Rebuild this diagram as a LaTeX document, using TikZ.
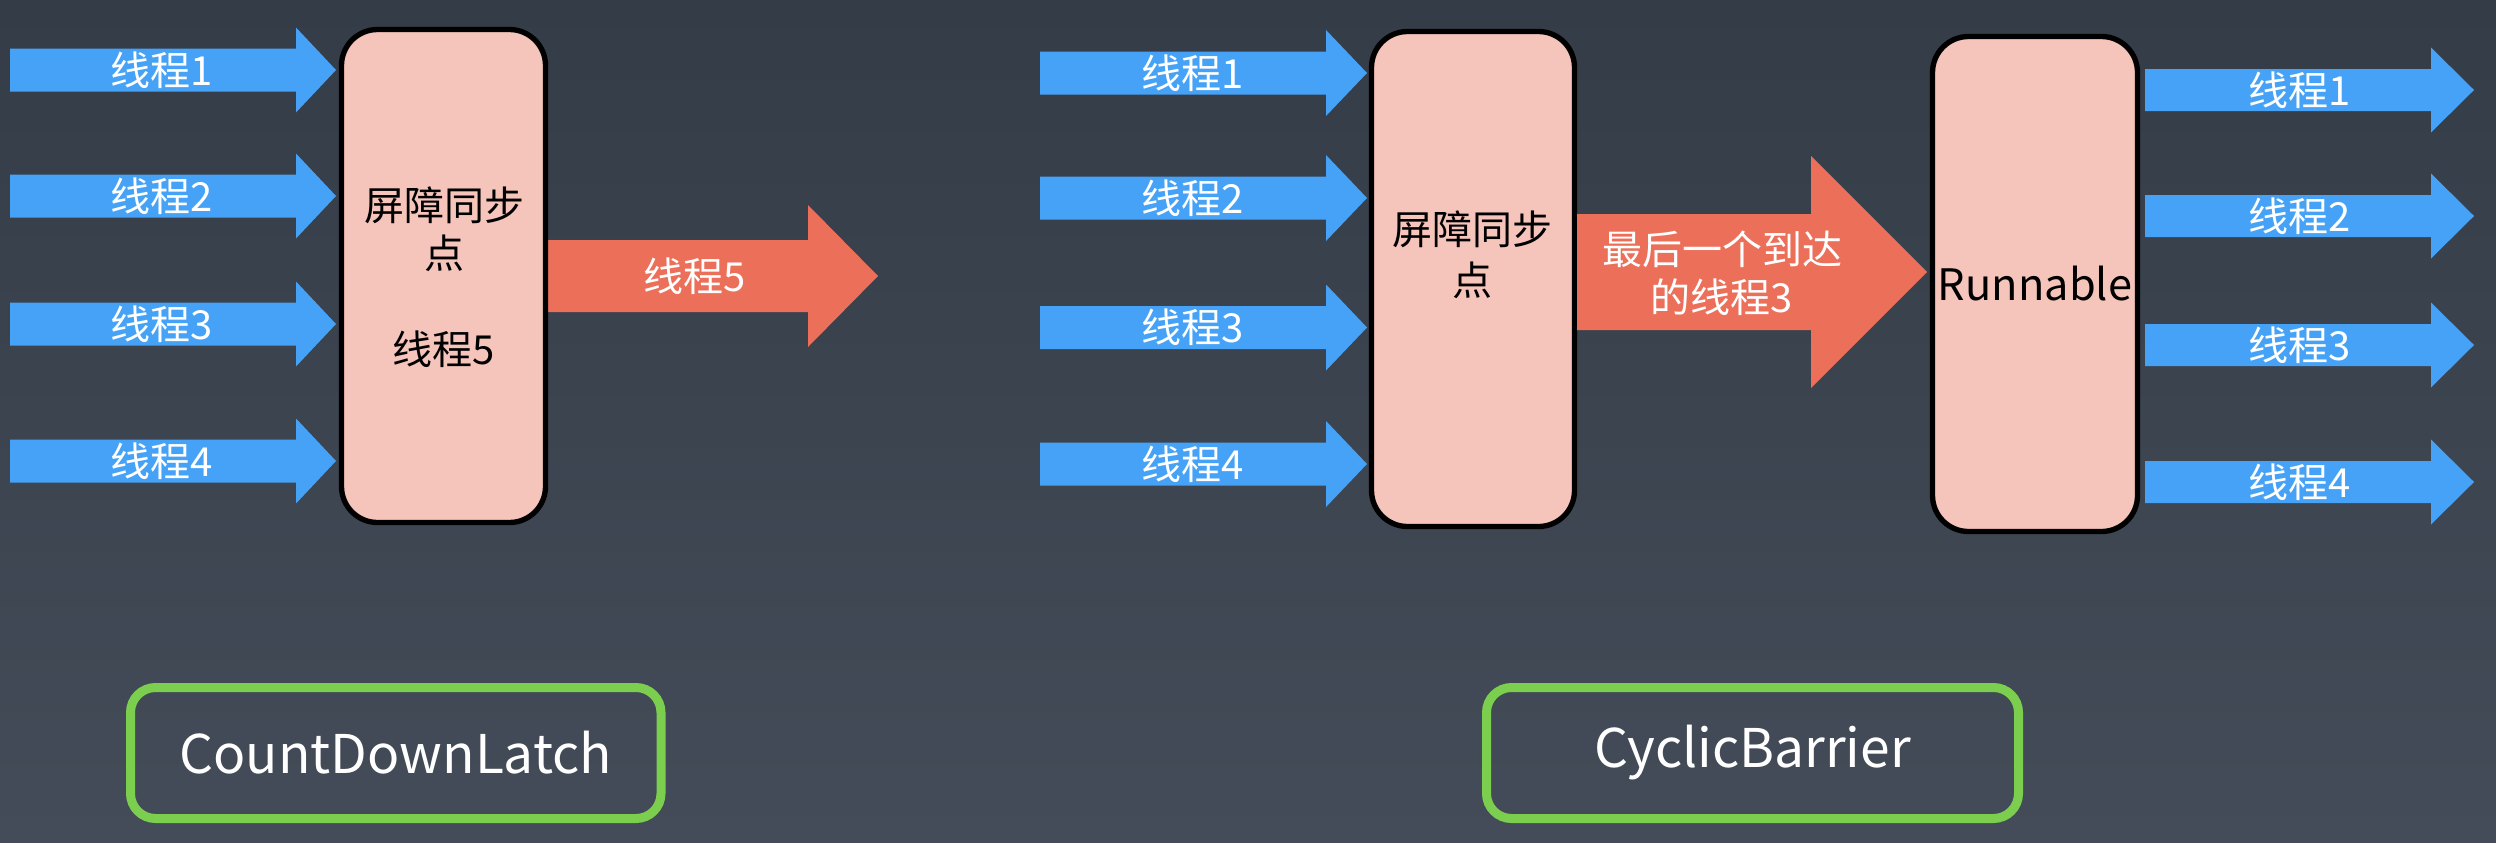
\documentclass[tikz,border=0pt]{standalone}
\usepackage{fontspec}
\setmainfont{Noto Sans CJK SC}
\definecolor{bgtop}{HTML}{343C47}
\definecolor{bgbot}{HTML}{434C58}
\definecolor{thblue}{HTML}{46A2F6}
\definecolor{thorange}{HTML}{EC6F5A}
\definecolor{boxfill}{HTML}{F5C4BA}
\definecolor{lgreen}{HTML}{7CCF4E}
\newcommand{\blockarr}[7]{% colour, x0, xs, xt, yc, half shaft, half head
  \fill[#1] ({#2},{#5-#6}) -- ({#3},{#5-#6}) -- ({#3},{#5-#7}) -- ({#4},{#5})
    -- ({#3},{#5+#7}) -- ({#3},{#5+#6}) -- ({#2},{#5+#6}) -- cycle;}
\tikzset{
  barrier/.style={draw=black, fill=boxfill, line width=1.6pt, rounded corners=10.8pt, inner sep=0pt},
  wlabel/.style={text=white, font=\fontsize{12}{14.4}\selectfont, inner sep=0pt, align=center},
  blabel/.style={text=black, font=\fontsize{12}{14.4}\selectfont, inner sep=0pt, align=center},
  namebox/.style={draw=lgreen, line width=2.7pt, rounded corners=7.5pt, inner sep=0pt,
    minimum height=39.3pt, text=white, font=\fontsize{16}{19}\selectfont},
}
\begin{document}
\begin{tikzpicture}[x=0.3pt, y=-0.3pt]
\useasboundingbox (0,0) rectangle (2496,842);
\shade[top color=bgtop, bottom color=bgbot] (0,0) rectangle (2496,842);

% ---------- CountDownLatch ----------
\blockarr{thblue}{10}{296}{336}{70}{21.5}{42.5}
\blockarr{thblue}{10}{296}{336}{196}{21.5}{42.5}
\blockarr{thblue}{10}{296}{336}{324}{21.5}{42.5}
\blockarr{thblue}{10}{296}{336}{461}{21.5}{42.5}
\node[wlabel] (l1) at (162,70) {线程1};
\node[wlabel] (l2) at (162,196) {线程2};
\node[wlabel] (l3) at (162,324) {线程3};
\node[wlabel] (l4) at (162,461) {线程4};

\blockarr{thorange}{548}{808}{878}{276}{36}{71}
\node[wlabel] (l5) at (695,276) {线程5};

\node[barrier, minimum width=61.2pt, minimum height=147.9pt] (b1) at (443.5,276) {};
\node[blabel] (b1t) at (444,277) {屏障同步\\点\\[14.4pt]线程5};

\node[namebox, minimum width=159.15pt] (cdl) at (395.75,753) {CountDownLatch};

% ---------- CyclicBarrier ----------
\blockarr{thblue}{1040}{1326}{1367}{73}{21.5}{43}
\blockarr{thblue}{1040}{1326}{1367}{198}{21.5}{43}
\blockarr{thblue}{1040}{1326}{1367}{327.5}{21.5}{43}
\blockarr{thblue}{1040}{1326}{1367}{464}{21.5}{43}
\node[wlabel] (m1) at (1193,73) {线程1};
\node[wlabel] (m2) at (1193,198) {线程2};
\node[wlabel] (m3) at (1193,327.5) {线程3};
\node[wlabel] (m4) at (1193,464) {线程4};

\node[barrier, minimum width=60.9pt, minimum height=148.5pt] (b2) at (1473,279) {};
\node[blabel, font=\fontsize{12}{15.3}\selectfont] (b2t) at (1472,254.5) {屏障同步\\点};

\blockarr{thorange}{1577}{1811}{1927}{272}{58}{116}
\node[wlabel] (last) at (1722,273.5) {最后一个到达\\的线程3};

\node[barrier, minimum width=61.5pt, minimum height=148.5pt] (b3) at (2035,284) {};
\node[blabel, font=\fontsize{13}{15}\selectfont] (run) at (2035,284) {Runnable};

\blockarr{thblue}{2145}{2431}{2474}{90}{21}{42.5}
\blockarr{thblue}{2145}{2431}{2474}{216}{21}{42.5}
\blockarr{thblue}{2145}{2431}{2474}{345}{21}{42.5}
\blockarr{thblue}{2145}{2431}{2474}{482}{21}{42.5}
\node[wlabel] (r1) at (2300,90) {线程1};
\node[wlabel] (r2) at (2300,216) {线程2};
\node[wlabel] (r3) at (2300,345) {线程3};
\node[wlabel] (r4) at (2300,482) {线程4};

\node[namebox, minimum width=159.6pt] (cb) at (1752.5,753) {CyclicBarrier};
\end{tikzpicture}
\end{document}
